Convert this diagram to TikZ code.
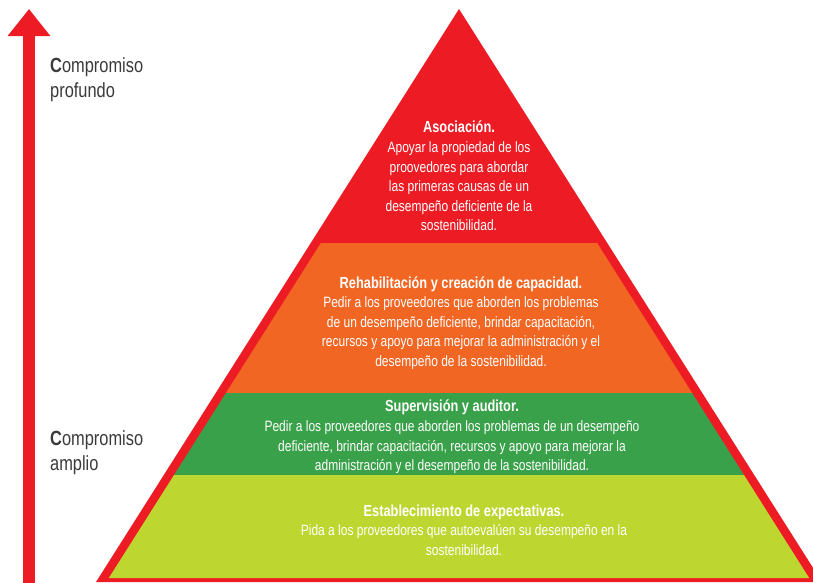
\documentclass[tikz,border=0pt]{standalone}
\usepackage{fontspec}
\setmainfont{Liberation Sans}[FakeStretch=0.8]
\usepackage{xcolor}
\usetikzlibrary{arrows.meta}
\definecolor{pyrred}{HTML}{ED1C24}
\definecolor{pyrorange}{HTML}{F26624}
\definecolor{pyrgreen}{HTML}{39A149}
\definecolor{pyrlime}{HTML}{BED630}
\definecolor{labelgray}{HTML}{3A3A3A}
\tikzset{
    bandtext/.style={
        align=center,
        text=white,
        inner sep=0pt,
        font=\fontsize{15}{19.6}\selectfont
    },
    sidetext/.style={
        align=left,
        text=labelgray,
        inner sep=0pt,
        anchor=north west,
        font=\fontsize{20.5}{25.5}\selectfont
    }
}
% one coloured layer inside the red border, from y=#1 down to y=#2
\newcommand{\pyrband}[3]{%
    \fill[#3] ({469-(#1-9)*0.633},#1) -- ({449+(#1-9)*0.633},#1)
        -- ({449+(#2-9)*0.633},#2) -- ({469-(#2-9)*0.633},#2) -- cycle;
}
\newcommand{\layertitle}[1]{{\fontsize{16}{19.6}\selectfont\bfseries #1}}

\begin{document}
\begin{tikzpicture}[x=1pt, y=-1pt]
    \useasboundingbox (0,0) rectangle (813,582);
    \clip (0,0) rectangle (813,582);

    % Arrow on the left
    \coordinate (arrowbase) at (29,590);
    \coordinate (arrowtip) at (29,9);
    \draw[pyrred, line width=12pt, -{Triangle[length=27pt, width=41pt]}] (arrowbase) -- (arrowtip);

    \node[sidetext] (deep) at (50,57) {\textbf{C}ompromiso\\profundo};
    \node[sidetext] (broad) at (50,430) {\textbf{C}ompromiso\\amplio};

    % Pyramid: red outline and top, then the layers
    \fill[pyrred] (96,582) -- (459,9) -- (822,582) -- cycle;
    \pyrband{243}{393}{pyrorange}
    \pyrband{393}{475}{pyrgreen}
    \pyrband{475}{578}{pyrlime}

    % Texts of the layers
    \node[bandtext] (partner) at (459,176) {\layertitle{Asociación.}\\Apoyar la propiedad de los\\proovedores para abordar\\las primeras causas de un\\desempeño deficiente de la\\sostenibilidad.};
    \node[bandtext] (rehab) at (461,323) {\layertitle{Rehabilitación y creación de capacidad.}\\Pedir a los proveedores que aborden los problemas\\de un desempeño deficiente, brindar capacitación,\\recursos y apoyo para mejorar la administración y el\\desempeño de la sostenibilidad.};
    \node[bandtext] (audit) at (452,437) {\layertitle{Supervisión y auditor.}\\Pedir a los proveedores que aborden los problemas de un desempeño\\deficiente, brindar capacitación, recursos y apoyo para mejorar la\\administración y el desempeño de la sostenibilidad.};
    \node[bandtext] (expect) at (464,530) {\layertitle{Establecimiento de expectativas.}\\Pida a los proveedores que autoevalúen su desempeño en la\\sostenibilidad.};
\end{tikzpicture}
\end{document}
